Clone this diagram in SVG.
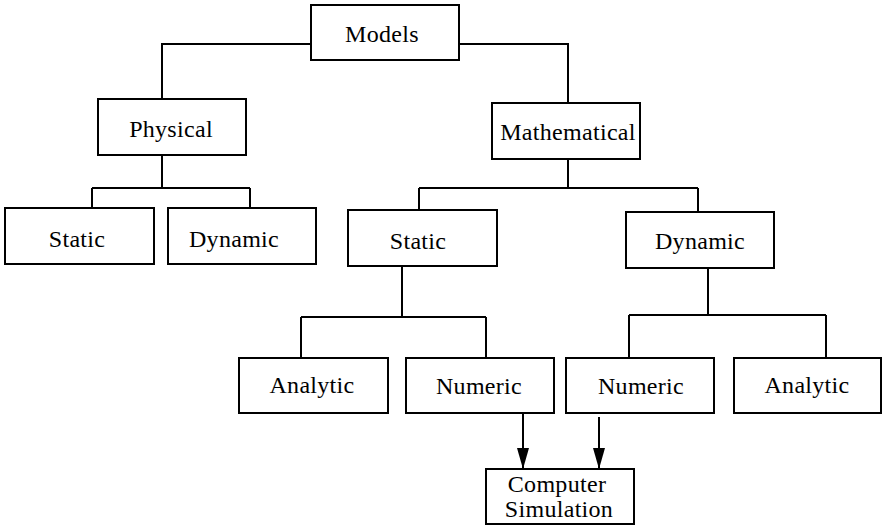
<svg xmlns="http://www.w3.org/2000/svg" width="882" height="527" viewBox="0 0 882 527">
<style>
.box{fill:#fff;stroke:#000;stroke-width:2}
.ln{fill:none;stroke:#000;stroke-width:2}
text{font-family:"Liberation Serif","Times New Roman",serif;font-size:24px;fill:#000;text-anchor:middle;letter-spacing:0.3px}
</style>
<defs>
<marker id="arr" markerWidth="21" markerHeight="12" refX="21" refY="6" orient="auto" markerUnits="userSpaceOnUse" viewBox="0 0 21 12">
<path d="M0,0 L21,6 L0,12 Z" fill="#000"/>
</marker>
</defs>
<g id="connectors">
<path class="ln" d="M311,44 H162 V99"/>
<path class="ln" d="M459,44 H568 V103"/>
<path class="ln" d="M162,155 V188 M92,188 H250 M92,188 V208 M250,188 V208"/>
<path class="ln" d="M568,159 V188 M419,188 H698 M419,188 V210 M698,188 V212"/>
<path class="ln" d="M402,266 V317 M301,317 H486 M301,317 V358 M486,317 V358"/>
<path class="ln" d="M708,268 V315 M629,315 H826 M629,315 V358 M826,315 V358"/>
<line class="ln" x1="523" y1="413" x2="523" y2="469" marker-end="url(#arr)"/>
<line class="ln" x1="599" y1="417" x2="599" y2="469" marker-end="url(#arr)"/>
</g>
<g id="models"><rect class="box" x="311" y="5" width="148" height="55"/><text x="382" y="42">Models</text></g>
<g id="physical"><rect class="box" x="98" y="99" width="148" height="56"/><text x="171" y="137">Physical</text></g>
<g id="mathematical"><rect class="box" x="492" y="103" width="148" height="56"/><text x="568" y="140">Mathematical</text></g>
<g id="phys-static"><rect class="box" x="5" y="208" width="149" height="56"/><text x="77" y="247">Static</text></g>
<g id="phys-dynamic"><rect class="box" x="168" y="208" width="148" height="56"/><text x="234" y="247">Dynamic</text></g>
<g id="math-static"><rect class="box" x="348" y="210" width="149" height="56"/><text x="418" y="249">Static</text></g>
<g id="math-dynamic"><rect class="box" x="626" y="212" width="148" height="56"/><text x="700" y="249">Dynamic</text></g>
<g id="static-analytic"><rect class="box" x="239" y="358" width="149" height="55"/><text x="312" y="393">Analytic</text></g>
<g id="static-numeric"><rect class="box" x="406" y="358" width="148" height="55"/><text x="479" y="394">Numeric</text></g>
<g id="dynamic-numeric"><rect class="box" x="566" y="358" width="148" height="55"/><text x="641" y="394">Numeric</text></g>
<g id="dynamic-analytic"><rect class="box" x="734" y="358" width="147" height="55"/><text x="807" y="393">Analytic</text></g>
<g id="computer-simulation"><rect class="box" x="486" y="469" width="148" height="55"/><text x="557" y="492">Computer</text><text x="559" y="517">Simulation</text></g>
</svg>
